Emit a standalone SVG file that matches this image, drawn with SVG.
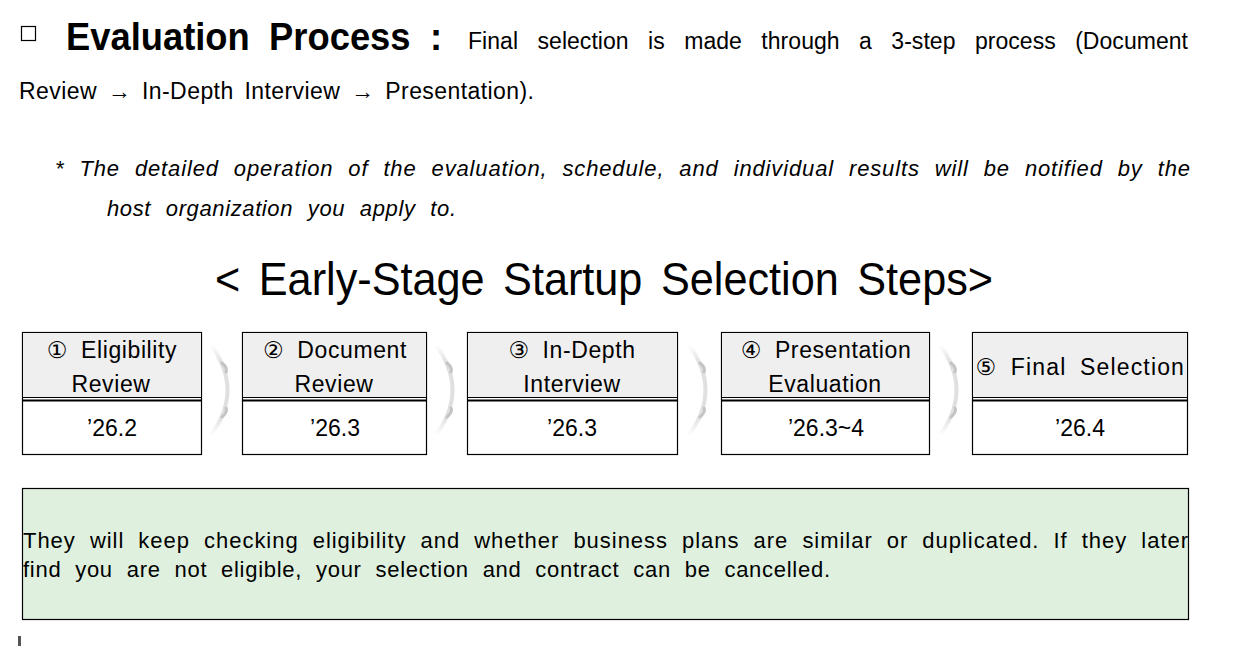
<svg xmlns="http://www.w3.org/2000/svg" width="1244" height="668" viewBox="0 0 1244 668">
<defs>
<style>
text{font-family:"Liberation Sans",Arial,"DejaVu Sans",sans-serif;fill:#000}
.b{font-size:22px}
.h{font-size:23px;text-anchor:middle;letter-spacing:0.6px;word-spacing:6px}
.d{font-size:23px;text-anchor:middle}
.hd{fill:#efefef;stroke:none}
.bx{fill:#fff;stroke:#000;stroke-width:1.2}
.ln{stroke:#000;fill:none}
.chev2{fill:none;stroke:#c4c4c4;stroke-width:3;stroke-linecap:round}
</style>
<linearGradient id="fade" x1="0" y1="0" x2="0" y2="1">
<stop offset="0" stop-color="#fff"/>
<stop offset="0.2" stop-color="#e0e0e0"/>
<stop offset="0.8" stop-color="#e0e0e0"/>
<stop offset="1" stop-color="#fff"/>
</linearGradient>
<g id="chevron">
<path d="M -11 -45 Q 22 0 -11 45" fill="none" stroke="url(#fade)" stroke-width="4" stroke-linecap="round"/>
<path class="chev2" d="M 0 -27 Q 6 -22 4 -18"/>
<path class="chev2" d="M 0 27 Q 6 22 4 18"/>
</g>
</defs>

<g id="heading">
<rect x="21.5" y="26.5" width="14" height="14" fill="none" stroke="#000" stroke-width="1.2"/>
<text x="66" y="50" font-size="39" font-weight="bold" word-spacing="10" textLength="376" lengthAdjust="spacingAndGlyphs">Evaluation Process :</text>
<text x="468" y="49" font-size="23" word-spacing="13" textLength="720" lengthAdjust="spacing">Final selection is made through a 3-step process (Document</text>
<text x="19" y="99" font-size="23" word-spacing="4" textLength="515" lengthAdjust="spacing">Review → In-Depth Interview → Presentation).</text>
</g>

<g id="note">
<text x="55" y="176" class="b" font-style="italic" word-spacing="8" textLength="1135" lengthAdjust="spacing">* The detailed operation of the evaluation, schedule, and individual results will be notified by the</text>
<text x="107" y="216" class="b" font-style="italic" word-spacing="8" textLength="349" lengthAdjust="spacing">host organization you apply to.</text>
</g>

<g id="title">
<text x="215" y="295" font-size="46" word-spacing="7" textLength="778" lengthAdjust="spacingAndGlyphs">&lt; Early-Stage Startup Selection Steps&gt;</text>
</g>

<g id="connectors">
<use href="#chevron" x="222" y="390"/>
<use href="#chevron" x="447" y="390"/>
<use href="#chevron" x="700" y="390"/>
<use href="#chevron" x="951" y="390"/>
</g>

<g id="step1">
<rect class="bx" x="22.5" y="332.5" width="179" height="122"/>
<rect class="hd" x="23" y="333" width="178" height="64"/>
<line class="ln" x1="22" y1="397.5" x2="202" y2="397.5" stroke-width="1"/>
<line class="ln" x1="22" y1="400.5" x2="202" y2="400.5" stroke-width="2"/>
<text class="h" x="112" y="358">① Eligibility</text>
<text class="h" x="111" y="392">Review</text>
<text class="d" x="112" y="436">’26.2</text>
</g>

<g id="step2">
<rect class="bx" x="242.5" y="332.5" width="184" height="122"/>
<rect class="hd" x="243" y="333" width="183" height="64"/>
<line class="ln" x1="242" y1="397.5" x2="427" y2="397.5" stroke-width="1"/>
<line class="ln" x1="242" y1="400.5" x2="427" y2="400.5" stroke-width="2"/>
<text class="h" x="335" y="358">② Document</text>
<text class="h" x="334" y="392">Review</text>
<text class="d" x="335" y="436">’26.3</text>
</g>

<g id="step3">
<rect class="bx" x="467.5" y="332.5" width="210" height="122"/>
<rect class="hd" x="468" y="333" width="209" height="64"/>
<line class="ln" x1="467" y1="397.5" x2="678" y2="397.5" stroke-width="1"/>
<line class="ln" x1="467" y1="400.5" x2="678" y2="400.5" stroke-width="2"/>
<text class="h" x="572" y="358">③ In-Depth</text>
<text class="h" x="572" y="392">Interview</text>
<text class="d" x="572" y="436">’26.3</text>
</g>

<g id="step4">
<rect class="bx" x="721.5" y="332.5" width="208" height="122"/>
<rect class="hd" x="722" y="333" width="207" height="64"/>
<line class="ln" x1="721" y1="397.5" x2="930" y2="397.5" stroke-width="1"/>
<line class="ln" x1="721" y1="400.5" x2="930" y2="400.5" stroke-width="2"/>
<text class="h" x="826" y="358">④ Presentation</text>
<text class="h" x="825" y="392">Evaluation</text>
<text class="d" x="826" y="436">’26.3~4</text>
</g>

<g id="step5">
<rect class="bx" x="972.5" y="332.5" width="215" height="122"/>
<rect class="hd" x="973" y="333" width="214" height="64"/>
<line class="ln" x1="972" y1="397.5" x2="1188" y2="397.5" stroke-width="1"/>
<line class="ln" x1="972" y1="400.5" x2="1188" y2="400.5" stroke-width="2"/>
<text class="h" x="1080" y="375" textLength="209" lengthAdjust="spacing">⑤ Final Selection</text>
<text class="d" x="1080" y="436">’26.4</text>
</g>

<g id="notice">
<rect x="22.5" y="488.5" width="1166" height="131" fill="#dff0df" stroke="#000" stroke-width="1.2"/>
<text x="23" y="548" class="b" word-spacing="7" textLength="1165" lengthAdjust="spacing">They will keep checking eligibility and whether business plans are similar or duplicated. If they later</text>
<text x="23" y="577" class="b" word-spacing="7" textLength="807" lengthAdjust="spacing">find you are not eligible, your selection and contract can be cancelled.</text>
</g>

<rect x="18" y="636" width="3" height="10" fill="#555"/>
</svg>
